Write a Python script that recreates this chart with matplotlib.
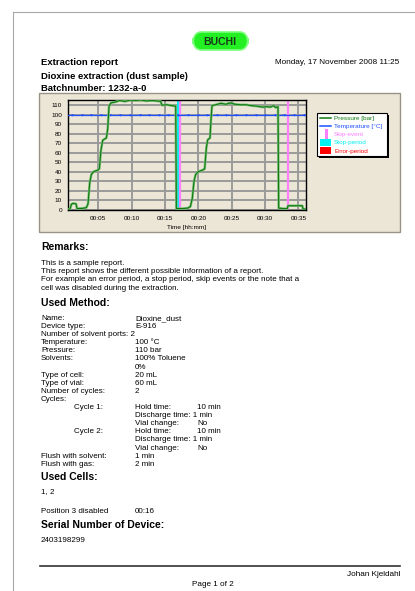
import matplotlib
matplotlib.use("Agg")
import matplotlib.pyplot as plt
from matplotlib.patches import Rectangle, FancyBboxPatch
from matplotlib.lines import Line2D

plt.rcParams['font.family'] = ['Liberation Sans', 'DejaVu Sans']

W, H = 415, 591

# pressure trace [bar] over time [min]
pressure_t = [0.40, 0.75, 0.95, 1.20, 1.65, 1.80, 2.60, 3.20, 3.45, 3.70, 3.95, 4.30,
              4.90, 5.15, 5.40, 5.65, 6.20, 6.40, 6.60, 6.90, 7.60, 8.20, 9.00, 9.80,
              10.60, 11.40, 12.20, 13.00, 13.80, 14.35, 14.55, 15.30, 16.10, 16.60, 16.70, 17.60,
              18.40, 18.80, 19.10, 19.35, 19.60, 20.00, 20.60, 20.95, 21.20, 21.40, 21.75, 21.90,
              22.05, 22.60, 23.40, 24.10, 24.80, 25.50, 26.30, 27.20, 28.00, 28.80, 29.60, 30.20,
              30.80, 31.30, 31.60, 31.95, 32.05, 32.70, 33.35, 33.45, 34.50, 35.60, 35.70, 36.15]
pressure_v = [0.0, 0.5, 5.5, 6.5, 6.0, 1.0, 1.2, 2.0, 6.0, 28.0, 37.0, 40.0,
              41.5, 43.0, 63.0, 73.0, 75.5, 85.0, 109.0, 112.5, 113.5, 115.0, 114.0, 115.5,
              115.0, 115.5, 114.5, 115.0, 114.5, 114.0, 110.0, 110.5, 109.5, 109.0, 1.0, 1.0,
              1.5, 3.0, 12.0, 30.0, 37.0, 40.0, 41.5, 43.0, 65.0, 73.5, 75.5, 95.0,
              109.5, 110.5, 112.0, 111.0, 112.5, 111.0, 110.5, 110.5, 109.5, 109.0, 108.0, 108.5,
              108.0, 109.5, 107.5, 108.5, 1.5, 1.0, 1.0, 4.0, 4.0, 4.0, 0.5, 0.5]

# temperature [°C]
temp_t = [0.40, 36.15]
temp_v = [100, 100]
temp_dip_t = [1.0, 2.5, 3.9, 5.4, 6.8, 8.3, 9.7, 11.2, 12.6, 14.1, 15.5, 17.0, 18.4,
              19.9, 21.3, 22.8, 24.2, 25.7, 27.1, 28.6, 30.0, 31.5, 32.9, 34.4, 35.8]

error_period = (0.40, 0.65)
stop_period = (16.75, 17.10)
skip_events = [17.23, 33.45]

x_ticks = [5, 10, 15, 20, 25, 30, 35]
x_labels = ['00:05', '00:10', '00:15', '00:20', '00:25', '00:30', '00:35']
y_ticks = [0, 10, 20, 30, 40, 50, 60, 70, 80, 90, 100, 110]

legend_labels = ['Pressure [bar]', 'Temperature [°C]', 'Skip-event', 'Stop-period', 'Error-period']

BEIGE = '#ECE6D6'
GREEN = '#0F7A0F'
BLUE = '#1E50FF'
PINK = '#FF80FF'
CYAN = '#00F0F0'


def fx(x):
    return x / W


def fy(y):
    return 1 - y / H


def put(x, y, s, size=5.8, weight='normal', ha='left', color='black'):
    # y is the visual middle of the capitals, draw on the baseline below it (snapped to whole pixels)
    base = round(y + size * 100 / 72 * 0.36)
    fig.text(fx(round(x)), fy(base), s, fontsize=size, fontweight=weight, ha=ha, va='baseline', color=color)


fig = plt.figure(figsize=(W / 100, H / 100), dpi=100)
fig.patch.set_facecolor('white')

# page frame
fig.add_artist(Line2D([fx(12.5), fx(12.5)], [fy(12), fy(591)], color='#A8A8A8', lw=0.8))
fig.add_artist(Line2D([fx(12.5), fx(415)], [fy(12), fy(12)], color='#A8A8A8', lw=0.8))

# logo
logo = FancyBboxPatch((fx(193), fy(50)), fx(55), 18 / H, boxstyle='round,pad=0,rounding_size=0.02',
                      transform=fig.transFigure, facecolor='#22F022', edgecolor='#7CFF7C', lw=1.2)
fig.add_artist(logo)
put(220.5, 41.5, 'BUCHI', size=7.5, weight='bold', ha='center', color='#183818')

# header
put(41, 62, 'Extraction report', size=6.8, weight='bold')
put(399, 61, 'Monday, 17 November 2008 11:25', size=5.9, ha='right')
put(41, 76, 'Dioxine extraction (dust sample)', size=6.8, weight='bold')
put(41, 88, 'Batchnumber: 1232-a-0', size=6.8, weight='bold')

# chart panel (behind the axes)
fig.add_artist(Rectangle((fx(39), fy(232)), fx(400 - 39), 139 / H, transform=fig.transFigure,
                         facecolor=BEIGE, edgecolor='#9A9488', lw=1.0, zorder=-5))

ax = fig.add_axes([fx(67.7), fy(210), fx(306 - 67.7), 110 / H])
ax.set_facecolor(BEIGE)
ax.axvspan(*error_period, color='red', lw=0, zorder=2)
ax.axvspan(*stop_period, color=CYAN, lw=0, zorder=2)
for s in skip_events:
    ax.axvline(s, color=PINK, lw=1.6, zorder=2)
ax.plot(temp_t, temp_v, color=BLUE, lw=0.9, zorder=3)
ax.plot(temp_dip_t, [99.2] * len(temp_dip_t), ls='none', marker='v', ms=1.8, color=BLUE, mew=0, zorder=3)
ax.plot(pressure_t, pressure_v, color='#7CC07C', lw=1.8, zorder=3)
ax.plot(pressure_t, pressure_v, color=GREEN, lw=0.8, zorder=4)
ax.set_xlim(0.4, 36.15)
ax.set_ylim(-0.5, 115.5)
ax.set_xticks(x_ticks)
ax.set_xticklabels(x_labels)
ax.set_yticks(y_ticks)
ax.grid(True, color='#9A9A9A', lw=1.4)
ax.set_axisbelow(True)
ax.tick_params(labelsize=4.6, length=0, pad=4)
for sp in ax.spines.values():
    sp.set_color('black')
    sp.set_linewidth(1.0)
ax.set_xlabel('Time [hh:mm]', fontsize=4.6, labelpad=3)

# legend box
lx0, ly0, lx1, ly1 = 317, 113, 387, 156
fig.add_artist(Rectangle((fx(lx0 + 2), fy(ly1 + 2)), fx(lx1 - lx0), (ly1 - ly0) / H,
                         transform=fig.transFigure, facecolor='black', lw=0))
fig.add_artist(Rectangle((fx(lx0), fy(ly1)), fx(lx1 - lx0), (ly1 - ly0) / H,
                         transform=fig.transFigure, facecolor='white', edgecolor='black', lw=0.8))
row_y = [117.5, 125.5, 133.8, 142.2, 150.6]
row_c = [GREEN, BLUE, PINK, CYAN, 'red']
for i, (lab, c) in enumerate(zip(legend_labels, row_c)):
    y = row_y[i]
    if i < 2:
        fig.add_artist(Line2D([fx(320), fx(331)], [fy(y), fy(y)], color=c, lw=1.1))
    elif i == 2:
        fig.add_artist(Line2D([fx(325.5), fx(325.5)], [fy(y - 3.5), fy(y + 3.5)], color=c, lw=2.2))
    else:
        fig.add_artist(Rectangle((fx(320), fy(y + 3.5)), fx(11), 7 / H, transform=fig.transFigure,
                                 facecolor=c, lw=0))
    put(334, y, lab, size=4.6, color=c)

# remarks
put(41, 246, 'Remarks:', size=7.5, weight='bold')
remarks = ['This is a sample report.',
           'This report shows the different possible information of a report.',
           'For example an error period, a stop period, skip events or the note that a',
           'cell was disabled during the extraction.']
for i, line in enumerate(remarks):
    put(41, 262 + i * 8.2, line)

# used method
put(41, 302, 'Used Method:', size=7.5, weight='bold')
method_rows = [('Name:', 'Dioxine_dust'), ('Device type:', 'E-916'), ('Number of solvent ports: 2', ''),
               ('Temperature:', '100 °C'), ('Pressure:', '110 bar'), ('Solvents:', '100% Toluene'),
               ('', '0%'), ('Type of cell:', '20 mL'), ('Type of vial:', '60 mL'),
               ('Number of cycles:', '2'), ('Cycles:', '')]
cycle_rows = [('Hold time:', '10 min'), ('Discharge time: 1 min', ''), ('Vial change:', 'No')]
flush_rows = [('Flush with solvent:', '1 min'), ('Flush with gas:', '2 min')]

step = 8.1
y = 317
for lab, val in method_rows:
    put(41, y, lab)
    put(135, y, val)
    y += step
for n in (1, 2):
    put(74, y, f'Cycle {n}:')
    for lab, val in cycle_rows:
        put(135, y, lab)
        put(197, y, val)
        y += step
for lab, val in flush_rows:
    put(41, y, lab)
    put(135, y, val)
    y += step

put(41, 476, 'Used Cells:', size=7.5, weight='bold')
put(41, 490, '1, 2')
put(41, 510, 'Position 3 disabled')
put(135, 510, '00:16')
put(41, 524, 'Serial Number of Device:', size=7.5, weight='bold')
put(41, 539, '2403198299')

# footer
fig.add_artist(Line2D([fx(40), fx(400)], [fy(566), fy(566)], color='#333333', lw=1.2))
put(400, 573, 'Johan Kjeldahl', size=5.9, ha='right')
put(213, 583, 'Page 1 of 2', size=5.9, ha='center')

fig.savefig('out.png', dpi=100)
